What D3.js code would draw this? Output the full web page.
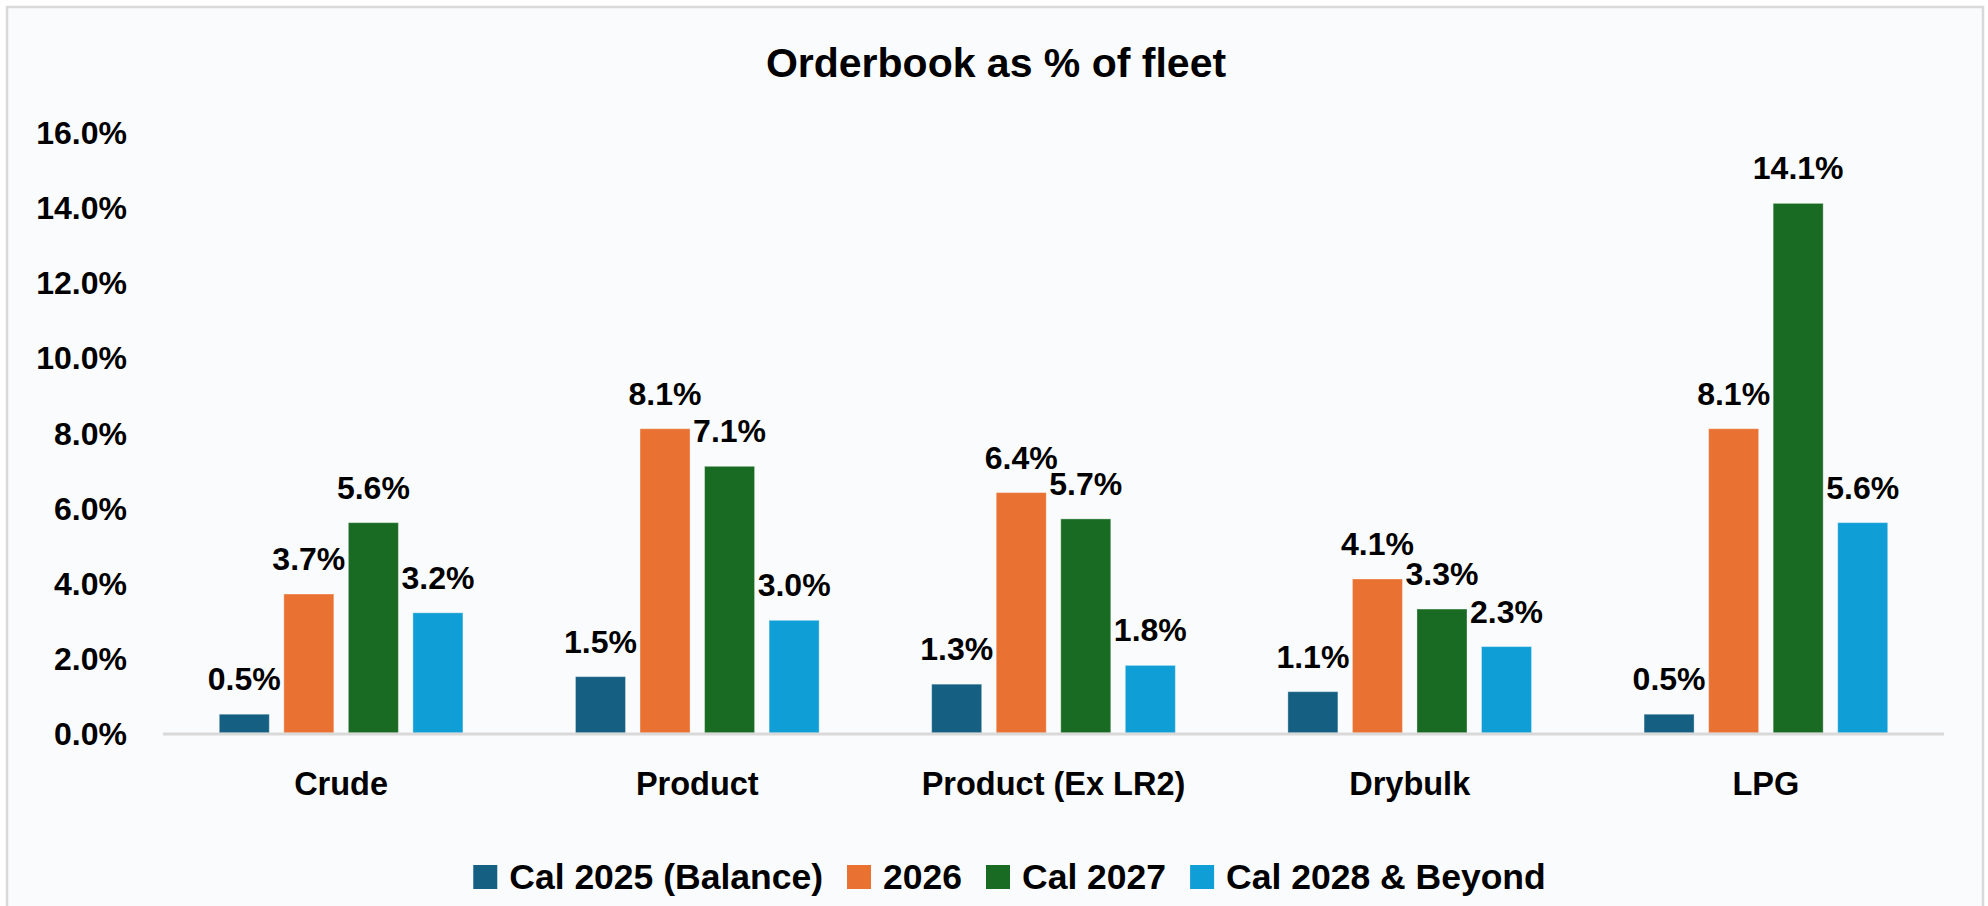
<!DOCTYPE html>
<html><head><meta charset="utf-8">
<script src="https://cdn.jsdelivr.net/npm/d3@7"></script>
<style>
html,body{margin:0;padding:0;background:#ffffff;}
text{font-family:"Liberation Sans",Arial,sans-serif;font-weight:bold;fill:#000;}
</style></head>
<body>
<svg id="chart" width="1988" height="906"></svg>
<script>
const categories = ["Crude","Product","Product (Ex LR2)","Drybulk","LPG"];
const seriesNames = ["Cal 2025 (Balance)","2026","Cal 2027","Cal 2028 & Beyond"];
const seriesColors = ["#156082","#E97132","#196B24","#0F9ED5"];
const cal2025 = [0.5,1.5,1.3,1.1,0.5];
const y2026 = [3.7,8.1,6.4,4.1,8.1];
const cal2027 = [5.6,7.1,5.7,3.3,14.1];
const cal2028 = [3.2,3.0,1.8,2.3,5.6];
const seriesValues = [cal2025,y2026,cal2027,cal2028];
const yTicks = [0,2,4,6,8,10,12,14,16];
const title = "Orderbook as % of fleet";

const svg = d3.select("#chart");
svg.append("rect").attr("x",7).attr("y",7).attr("width",1976).attr("height",910)
  .attr("fill","#FAFBFD").attr("stroke","#D9D9D9").attr("stroke-width",2.5);

const x0 = d3.scaleBand().domain(categories).range([163,1944]).paddingInner(0.316).paddingOuter(0.158);
const x1 = d3.scaleBand().domain(seriesNames).range([0,x0.bandwidth()]).paddingInner(0.225).paddingOuter(0);
const y = d3.scaleLinear().domain([0,16]).range([733,132]);

svg.append("text").attr("x",996).attr("y",77).attr("text-anchor","middle")
  .style("font-size","41px").text(title);

const yAxis = d3.axisLeft(y).tickValues(yTicks).tickSize(0).tickPadding(0)
  .tickFormat(d=>d3.format(".1f")(d)+"%");
const ya = svg.append("g").attr("transform","translate(127,0)").call(yAxis);
ya.select(".domain").remove();
ya.selectAll("text").style("font-size","32px").attr("dy","0.36em").attr("font-family",null).attr("fill","#000");

const data = [];
categories.forEach((c,i)=>seriesNames.forEach((s,j)=>data.push({c,s,j,v:seriesValues[j][i]})));

svg.append("g").selectAll("rect").data(data).join("rect")
  .attr("x",d=>x0(d.c)+x1(d.s)).attr("width",x1.bandwidth())
  .attr("y",d=>y(d.v)).attr("height",d=>y(0)-y(d.v))
  .attr("fill",d=>seriesColors[d.j])
  .attr("stroke","rgba(255,255,255,0.35)").attr("stroke-width",1);

svg.append("line").attr("x1",163).attr("x2",1944).attr("y1",y(0)+1).attr("y2",y(0)+1)
  .attr("stroke","#D9D9D9").attr("stroke-width",3);

svg.append("g").selectAll("text").data(data).join("text")
  .attr("x",d=>x0(d.c)+x1(d.s)+x1.bandwidth()/2).attr("y",d=>y(d.v)-24)
  .attr("text-anchor","middle").style("font-size","32px")
  .text(d=>d3.format(".1f")(d.v)+"%");

const xAxis = d3.axisBottom(x0).tickSize(0).tickPadding(0);
const xa = svg.append("g").attr("transform","translate(0,795)").call(xAxis);
xa.select(".domain").remove();
xa.selectAll("text").style("font-size","32.5px").attr("dy",0).attr("font-family",null).attr("fill","#000");

const leg = svg.append("g");
let cx = 0;
seriesNames.forEach((s,j)=>{
  const g = leg.append("g");
  g.append("rect").attr("x",cx).attr("y",-11).attr("width",24).attr("height",24).attr("fill",seriesColors[j]);
  const t = g.append("text").attr("x",cx+36).attr("y",13).style("font-size","35.5px").text(s);
  cx += 36 + t.node().getComputedTextLength() + 24;
});
const total = cx - 24;
leg.attr("transform",`translate(${1009.5-total/2},876)`);
</script>
</body></html>
